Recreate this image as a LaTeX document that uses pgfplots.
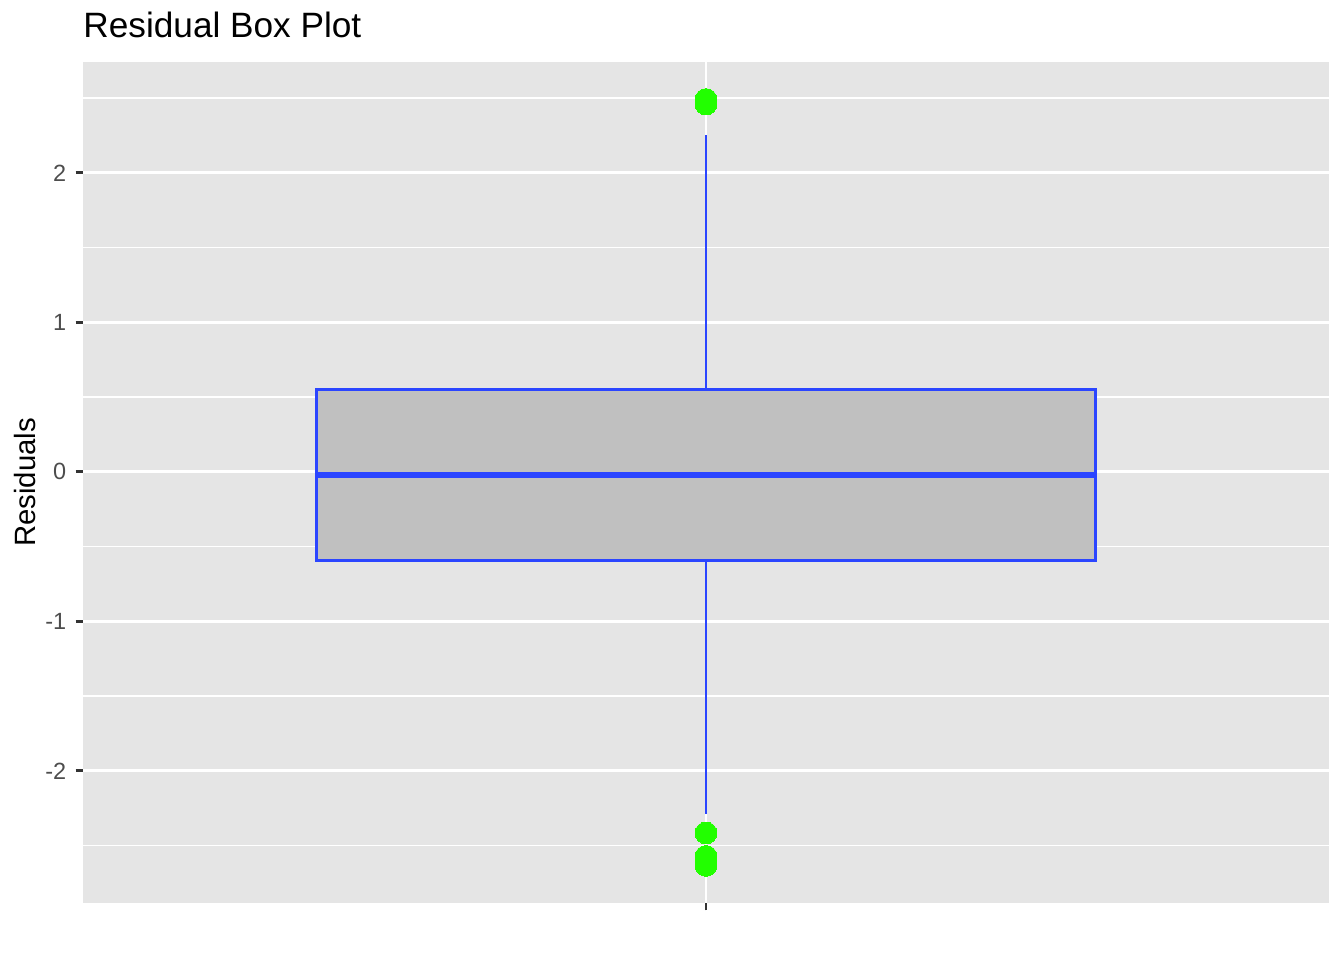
\documentclass[border=0pt]{standalone}
\usepackage{fontspec}
\setmainfont{Liberation Sans}
\usepackage{pgfplots}
\pgfplotsset{compat=1.18}
\definecolor{panel}{HTML}{E5E5E5}
\definecolor{boxblue}{HTML}{2B45FF}
\definecolor{boxfill}{HTML}{C0C0C0}
\definecolor{outgreen}{HTML}{22FF00}
\definecolor{ticktext}{HTML}{4D4D4D}
\definecolor{tickcol}{HTML}{333333}
\begin{document}
\begin{tikzpicture}
\useasboundingbox (-31.1pt,-21.4pt) rectangle (472.9pt,338.6pt);
\begin{axis}[at={(0,0)}, anchor=south west, scale only axis,
  width=467.3pt, height=315.4pt,
  xmin=0, xmax=2, ymin=-2.883, ymax=2.742,
  axis background/.style={fill=panel},
  axis line style={draw=none},
  xtick={1}, xticklabels={},
  ytick={-2,-1,0,1,2}, yticklabels={-2,-1,0,1,2},
  minor ytick={-2.5,-1.5,-0.5,0.5,1.5,2.5},
  xtick pos=lower, ytick pos=left,
  grid=both,
  major grid style={white, line width=1.07pt},
  minor grid style={white, line width=0.53pt},
  tick align=outside, major tick length=2.75pt, minor tick length=0pt,
  tick style={tickcol, line width=1.07pt},
  yticklabel style={font=\fontsize{8.8}{10}\selectfont, text=ticktext},
  ylabel={Residuals},
  ylabel style={font=\fontsize{11}{13}\selectfont, at={(axis description cs:-0.0464,0.5)}, anchor=center},
  title={Residual Box Plot},
  title style={font=\fontsize{13.2}{15}\selectfont, at={(axis description cs:0,1)}, anchor=base west, yshift=3pt, inner sep=0pt},
  clip=false,
]
\addplot[draw=boxblue, fill=boxfill, line width=1.1pt] coordinates {(0.375,-0.595)(1.625,-0.595)(1.625,0.548)(0.375,0.548)} -- cycle;
\addplot[boxblue, line width=1.1pt] coordinates {(1,0.548)(1,2.254)};
\addplot[boxblue, line width=1.1pt] coordinates {(1,-0.595)(1,-2.288)};
\addplot[boxblue, line width=2.2pt] coordinates {(0.375,-0.02)(1.625,-0.02)};
\addplot[outgreen, only marks, mark=*, mark size=4.1pt, mark options={draw=outgreen, fill=outgreen, line width=0pt}] coordinates {(1,2.49)(1,2.46)(1,-2.415)(1,-2.572)(1,-2.60)(1,-2.632)};
\end{axis}
\end{tikzpicture}
\end{document}
